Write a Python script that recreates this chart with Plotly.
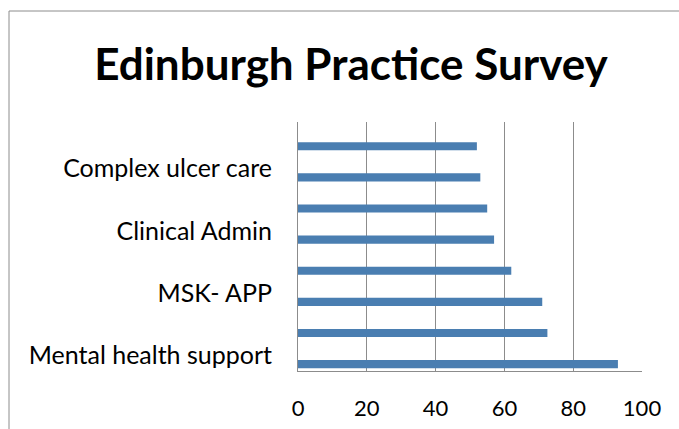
import plotly.graph_objects as go

# Category labels, bottom to top (Excel shows only every other label)
categories = ["Mental health support", "", "MSK- APP", "", "Clinical Admin", "", "Complex ulcer care", ""]
values = [93, 72.5, 71, 62, 57, 55, 53, 52]
x_ticks = [0, 20, 40, 60, 80, 100]
title_text = "Edinburgh Practice Survey"

positions = list(range(len(categories)))
shown_pos = [p for p, c in zip(positions, categories) if c]
shown_lab = [c for c in categories if c]

W, H = 679, 429
L, R, T, B = 298, 37, 122, 58
pw, ph = W - L - R, H - T - B

fig = go.Figure()
fig.add_trace(go.Bar(
    x=values, y=positions, orientation="h",
    marker=dict(color="#4A7EB1", line=dict(width=0)),
    offset=-0.41, width=0.26,
    hoverinfo="x",
))

frame_left = (9 - L) / pw
frame_top = (H - B - 11) / ph

fig.update_layout(
    width=W, height=H,
    margin=dict(l=L, r=R, t=T, b=B, autoexpand=False),
    paper_bgcolor="white", plot_bgcolor="white",
    showlegend=False,
    title=dict(text="<b>" + title_text + "</b>", x=351 / W, xanchor="center",
               y=1 - 65 / H, yanchor="middle",
               font=dict(family="Lato", size=44, color="#000000")),
    xaxis=dict(range=[0, 100], tickvals=x_ticks, showgrid=True, gridcolor="#8C8C8C",
               gridwidth=1, zeroline=False, showline=True, linecolor="#8C8C8C",
               linewidth=1, ticks="", ticklabelstandoff=18, automargin=False,
               tickfont=dict(family="Lato", size=22, color="#000000"), fixedrange=True),
    yaxis=dict(range=[-0.5, len(categories) - 0.5], tickvals=shown_pos, ticktext=shown_lab,
               showgrid=False, zeroline=False, showline=True, linecolor="#8C8C8C",
               linewidth=1, ticks="", ticklabelstandoff=20, automargin=False,
               tickfont=dict(family="Lato", size=25, color="#000000"), fixedrange=True),
    shapes=[
        dict(type="line", xref="paper", yref="paper",
             x0=frame_left, x1=(W + 5 - L) / pw, y0=frame_top, y1=frame_top,
             line=dict(color="#8C8C8C", width=1)),
        dict(type="line", xref="paper", yref="paper",
             x0=frame_left, x1=frame_left, y0=frame_top, y1=-B / ph - 0.1,
             line=dict(color="#8C8C8C", width=1)),
    ],
)

fig.write_html("out.html", config={"displayModeBar": False},
               post_script="document.body.style.margin='0';document.body.style.overflow='hidden';")
